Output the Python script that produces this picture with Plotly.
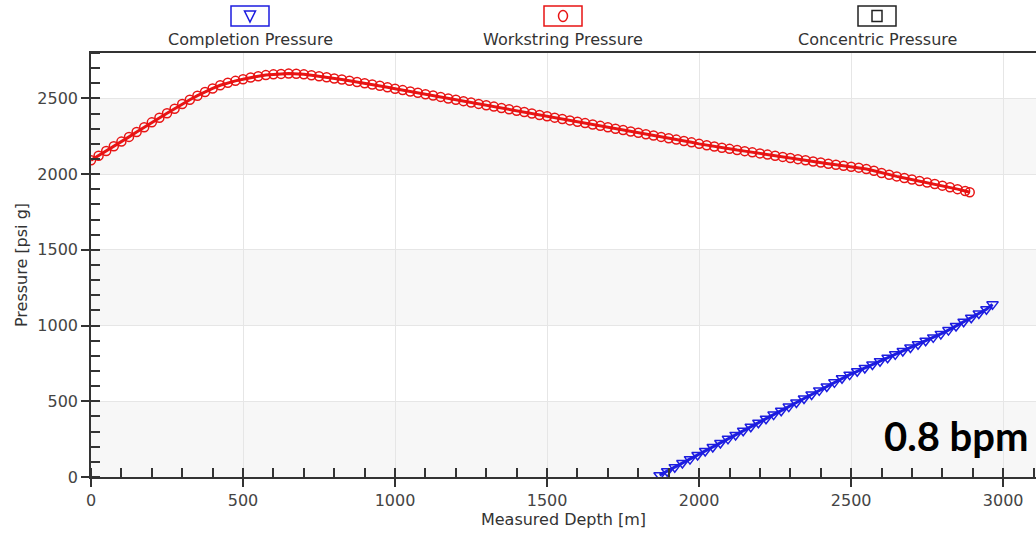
import plotly.graph_objects as go

# ---------------- data ----------------
work_depth = [0, 25, 50, 75, 100, 125, 150, 175, 200, 225, 250, 275, 300, 325, 350, 375, 400, 425,
              450, 475, 500, 525, 550, 575, 600, 625, 650, 675, 700, 725, 750, 775, 800, 825, 850,
              875, 900, 925, 950, 975, 1000, 1025, 1050, 1075, 1100, 1125, 1150, 1175, 1200, 1225,
              1250, 1275, 1300, 1325, 1350, 1375, 1400, 1425, 1450, 1475, 1500, 1525, 1550, 1575,
              1600, 1625, 1650, 1675, 1700, 1725, 1750, 1775, 1800, 1825, 1850, 1875, 1900, 1925,
              1950, 1975, 2000, 2025, 2050, 2075, 2100, 2125, 2150, 2175, 2200, 2225, 2250, 2275,
              2300, 2325, 2350, 2375, 2400, 2425, 2450, 2475, 2500, 2525, 2550, 2575, 2600, 2625,
              2650, 2675, 2700, 2725, 2750, 2775, 2800, 2825, 2850, 2875, 2890]
work_press = [2092, 2122, 2153, 2184, 2215, 2246, 2278, 2310, 2342, 2372, 2402, 2432, 2463, 2491,
              2518, 2543, 2566, 2587, 2603, 2616, 2627, 2638, 2647, 2654, 2659, 2662, 2664, 2663,
              2659, 2653, 2647, 2640, 2632, 2625, 2617, 2609, 2600, 2592, 2584, 2574, 2564, 2555,
              2546, 2537, 2528, 2519, 2510, 2500, 2491, 2482, 2473, 2464, 2455, 2446, 2437, 2428,
              2419, 2410, 2400, 2391, 2382, 2373, 2364, 2355, 2346, 2337, 2328, 2319, 2310, 2300,
              2291, 2282, 2273, 2264, 2255, 2246, 2237, 2228, 2219, 2210, 2200, 2191, 2182, 2174,
              2167, 2159, 2152, 2144, 2137, 2129, 2122, 2114, 2107, 2099, 2092, 2084, 2077, 2069,
              2062, 2055, 2049, 2043, 2034, 2022, 2008, 1996, 1985, 1975, 1965, 1955, 1945, 1935,
              1924, 1913, 1901, 1889, 1880]

comp_depth = [1870, 1895, 1920, 1945, 1970, 1995, 2020, 2045, 2070, 2095, 2120, 2145, 2170, 2195,
              2220, 2245, 2270, 2295, 2320, 2345, 2370, 2395, 2420, 2445, 2470, 2495, 2520, 2545,
              2570, 2595, 2620, 2645, 2670, 2695, 2720, 2745, 2770, 2795, 2820, 2845, 2870, 2895,
              2920, 2945, 2965]
comp_press = [12, 38, 65, 92, 118, 145, 172, 198, 225, 252, 278, 305, 332, 358, 385, 412, 438, 465,
              492, 518, 545, 572, 598, 625, 652, 676, 698, 720, 743, 765, 788, 810, 832, 855, 877,
              900, 922, 945, 970, 997, 1025, 1052, 1080, 1108, 1140]

conc_depth = []
conc_press = []

series_names = ["Completion Pressure", "Workstring Pressure", "Concentric Pressure"]
series_colors = ["#1c1ce0", "#e81414", "#222222"]
series_symbols = ["triangle-down-open", "circle-open", "square-open"]

x_title = "Measured Depth [m]"
y_title = "Pressure [psi g]"
note_text = "0.8 bpm"

X_RANGE = [0, 3108]
Y_RANGE = [0, 2800]
band_edges = [(0, 500), (1000, 1500), (2000, 2500)]

# ---------------- figure ----------------
W, H = 1036, 539
ML, MR, MT, MB = 91, 0, 53, 62
PW, PH = W - ML - MR, H - MT - MB

def px_x(p):
    return (p - ML) / PW

def px_y(p):
    return (H - MB - p) / PH

FONT = "DejaVu Sans, Verdana, sans-serif"

fig = go.Figure()

# alternating background bands
for y0, y1 in band_edges:
    fig.add_shape(type="rect", xref="paper", yref="y", x0=0, x1=1, y0=y0, y1=y1,
                  fillcolor="#f7f7f7", line=dict(width=0), layer="below")

fig.add_trace(go.Scatter(
    x=work_depth, y=work_press, mode="lines+markers", name=series_names[1],
    line=dict(color=series_colors[1], width=3),
    marker=dict(symbol=series_symbols[1], size=9, color=series_colors[1],
                line=dict(width=1.5, color=series_colors[1])),
    showlegend=False))
fig.add_trace(go.Scatter(
    x=comp_depth, y=comp_press, mode="lines+markers", name=series_names[0],
    line=dict(color=series_colors[0], width=3),
    marker=dict(symbol=series_symbols[0], size=10, color=series_colors[0],
                line=dict(width=1.5, color=series_colors[0])),
    showlegend=False))
fig.add_trace(go.Scatter(
    x=conc_depth, y=conc_press, mode="lines+markers", name=series_names[2],
    line=dict(color=series_colors[2], width=2),
    marker=dict(symbol=series_symbols[2], size=9, color=series_colors[2]),
    showlegend=False))

# custom legend (symbol box above text)
leg_centers = [250, 563, 877]
SY = 16  # symbol centre row (px)
for i, (name, col, cx) in enumerate(zip(series_names, series_colors, leg_centers)):
    fig.add_shape(type="rect", xref="paper", yref="paper",
                  x0=px_x(cx - 19), x1=px_x(cx + 19), y0=px_y(26), y1=px_y(6),
                  line=dict(color=col, width=1.5), fillcolor="rgba(0,0,0,0)")
    if i == 0:
        path = "M {:.5f},{:.5f} L {:.5f},{:.5f} L {:.5f},{:.5f} Z".format(
            px_x(cx - 5.5), px_y(SY - 5), px_x(cx + 5.5), px_y(SY - 5), px_x(cx), px_y(SY + 6))
        fig.add_shape(type="path", xref="paper", yref="paper", path=path,
                      line=dict(color=col, width=1.5))
    elif i == 1:
        fig.add_shape(type="circle", xref="paper", yref="paper",
                      x0=px_x(cx - 4.5), x1=px_x(cx + 4.5), y0=px_y(SY + 5.5), y1=px_y(SY - 5.5),
                      line=dict(color=col, width=1.5))
    else:
        fig.add_shape(type="rect", xref="paper", yref="paper",
                      x0=px_x(cx - 5), x1=px_x(cx + 5), y0=px_y(SY + 5.5), y1=px_y(SY - 5.5),
                      line=dict(color=col, width=1.5))
    fig.add_annotation(text=name, xref="paper", yref="paper", x=px_x(cx), y=px_y(39),
                       xanchor="center", yanchor="middle", showarrow=False,
                       font=dict(family=FONT, size=16, color="#333333"))

fig.add_annotation(text="<b>" + note_text + "</b>", xref="paper", yref="paper",
                   x=px_x(1031), y=px_y(436), xanchor="right", yanchor="middle",
                   showarrow=False, font=dict(family="Lato, Open Sans, sans-serif", size=40, color="#000000"))

axis_common = dict(
    showline=True, linecolor="#333333", linewidth=1.5,
    ticks="outside", ticklen=8, tickwidth=1.5, tickcolor="#333333",
    tickfont=dict(family=FONT, size=16, color="#444444"),
    showgrid=True, gridcolor="#e6e6e6", gridwidth=1, zeroline=False,
    automargin=False,
)

fig.update_layout(
    width=W, height=H,
    margin=dict(l=ML, r=MR, t=MT, b=MB, autoexpand=False),
    paper_bgcolor="white", plot_bgcolor="white",
    xaxis=dict(range=X_RANGE, dtick=500, tick0=0, mirror=True,
               title=dict(text=x_title, font=dict(family=FONT, size=16, color="#333333"), standoff=2),
               minor=dict(dtick=100, tick0=0, ticks="inside", ticklen=9, tickwidth=1.5,
                          tickcolor="#333333", showgrid=False),
               **axis_common),
    yaxis=dict(range=Y_RANGE, dtick=500, tick0=0,
               title=dict(text=y_title, font=dict(family=FONT, size=16, color="#333333"), standoff=6),
               minor=dict(dtick=100, tick0=0, ticks="inside", ticklen=9, tickwidth=1.5,
                          tickcolor="#333333", showgrid=False),
               **axis_common),
    showlegend=False,
)

fig.write_html("out.html", config={"displayModeBar": False},
               post_script="document.body.style.margin='0';document.body.style.padding='0';")
